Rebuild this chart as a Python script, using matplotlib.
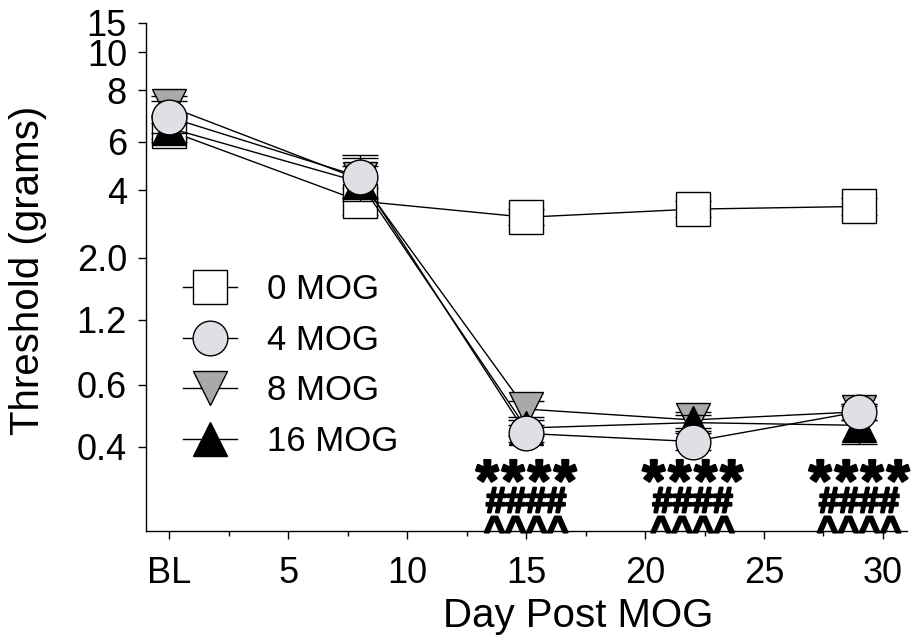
import numpy as np
import matplotlib
matplotlib.use('Agg')
import matplotlib.pyplot as plt
import matplotlib.patheffects as pe
from matplotlib.lines import Line2D

plt.rcParams['font.family'] = ['Liberation Sans', 'DejaVu Sans']

# 数据：y 轴按 von Frey 纤维刻度（对数单位），刻度标签显示克数
days = [0, 8, 15, 22, 29]
mog0 = [4.78, 4.52, 4.46, 4.49, 4.50]
mog4 = [4.83, 4.61, 3.66, 3.63, 3.74]
mog8 = [4.87, 4.60, 3.75, 3.71, 3.74]
mog16 = [4.79, 4.59, 3.68, 3.70, 3.69]
err0 = [0.03, 0.05, 0.03, 0.03, 0.03]
err4 = [0.06, 0.08, 0.03, 0.03, 0.03]
err8 = [0.04, 0.08, 0.03, 0.03, 0.03]
err16 = [0.05, 0.06, 0.03, 0.03, 0.07]

ytick_vals = [3.61, 3.84, 4.08, 4.31, 4.56, 4.74, 4.93, 5.07, 5.18]
ytick_labels = ['0.4', '0.6', '1.2', '2.0', '4', '6', '8', '10', '15']
xtick_vals = [0, 5, 10, 15, 20, 25, 30]
xtick_labels = ['BL', '5', '10', '15', '20', '25', '30']
sig_days = [15, 22, 29]

fig = plt.figure(figsize=(9.16, 6.39), dpi=100)
ax = fig.add_axes([145.7 / 916, 1 - 530.7 / 639, 761 / 916, 508 / 639])

series = [
    (mog0, err0, 's', 'white', '0 MOG'),
    (mog8, err8, 'v', '#a9a9a9', '8 MOG'),
    (mog16, err16, '^', 'black', '16 MOG'),
    (mog4, err4, 'o', '#dfe0e6', '4 MOG'),
]
for i, (vals, err, mk, fc, lab) in enumerate(series):
    ax.errorbar(days, vals, yerr=err, fmt=mk, ls='-', color='black', lw=1,
                ms=25, mfc=fc, mec='black', mew=1, ecolor='black',
                elinewidth=1, capsize=12.8, capthick=1, zorder=2 + i)

# 显著性标记（加描边使字形更粗）
thick = [pe.withStroke(linewidth=1.6, foreground='black')]
for d in sig_days:
    # 星号逐个放置
    for k in range(4):
        ax.annotate('*', xy=(d, 3.413), xytext=((k - 1.5) * 18.7, 0),
                    textcoords='offset points', ha='center', va='baseline',
                    fontsize=42, fontweight='bold', zorder=10,
                    path_effects=thick)
    ax.text(d, 3.368, '####', ha='center', va='baseline', fontsize=26,
            fontweight='bold', zorder=10, path_effects=thick)
    ax.text(d, 3.26, '^^^^', ha='center', va='baseline', fontsize=26,
            fontweight='bold', zorder=10, clip_on=False, path_effects=thick)

ax.set_xlim(-1, 31)
ax.set_ylim(3.3, 5.18)
ax.set_xticks(xtick_vals)
ax.set_xticklabels(xtick_labels)
ax.set_xticks(np.arange(2.5, 30, 5), minor=True)
ax.set_yticks(ytick_vals)
ax.set_yticklabels(ytick_labels)
ax.tick_params(axis='both', which='major', direction='out', length=5.5,
               width=1, labelsize=26)
ax.tick_params(axis='x', which='major', pad=13)
ax.tick_params(axis='y', which='major', pad=8)
ax.tick_params(axis='x', which='minor', direction='out', length=3.6, width=1)

for s in ['top', 'right']:
    ax.spines[s].set_visible(False)
for s in ['left', 'bottom']:
    ax.spines[s].set_linewidth(1)

ax.set_xlabel('Day Post MOG', fontsize=29)
ax.set_ylabel('Threshold (grams)', fontsize=29)
ax.xaxis.set_label_coords(0.568, -0.13)
ax.yaxis.set_label_coords(-0.13, 0.513)

handles = [
    Line2D([], [], color='black', lw=1, marker='s', ms=25, mfc='white', mec='black'),
    Line2D([], [], color='black', lw=1, marker='o', ms=25, mfc='#dfe0e6', mec='black'),
    Line2D([], [], color='black', lw=1, marker='v', ms=25, mfc='#a9a9a9', mec='black'),
    Line2D([], [], color='black', lw=1, marker='^', ms=25, mfc='black', mec='black'),
]
labels = ['0 MOG', '4 MOG', '8 MOG', '16 MOG']
fig.legend(handles, labels, loc='upper left', bbox_to_anchor=(0.1995, 0.5728),
           bbox_transform=fig.transFigure, fontsize=25, frameon=False,
           handlelength=1.555, handletextpad=0.88, labelspacing=0.51,
           borderpad=0, borderaxespad=0, numpoints=1)

fig.savefig('out.png', dpi=100)
